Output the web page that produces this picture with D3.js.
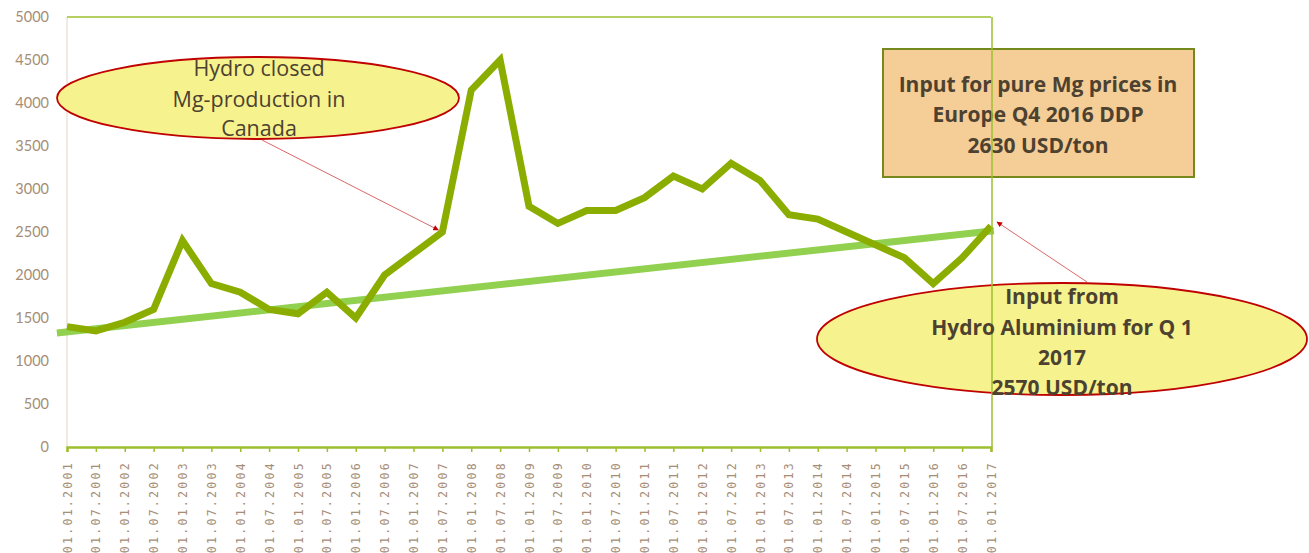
<!DOCTYPE html>
<html>
<head>
<meta charset="utf-8">
<script src="https://cdn.jsdelivr.net/npm/d3@7"></script>
<style>
  html, body { margin: 0; padding: 0; background: #fff; }
  svg { display: block; }
</style>
</head>
<body>
<div id="chart"></div>
<script>
// half-year dates, Jan 2001 .. Jan 2017
const dateLabels = [
  '01.01.2001','01.07.2001','01.01.2002','01.07.2002','01.01.2003','01.07.2003',
  '01.01.2004','01.07.2004','01.01.2005','01.07.2005','01.01.2006','01.07.2006',
  '01.01.2007','01.07.2007','01.01.2008','01.07.2008','01.01.2009','01.07.2009',
  '01.01.2010','01.07.2010','01.01.2011','01.07.2011','01.01.2012','01.07.2012',
  '01.01.2013','01.07.2013','01.01.2014','01.07.2014','01.01.2015','01.07.2015',
  '01.01.2016','01.07.2016','01.01.2017'
];
// Mg price, USD/ton
const mgPrice = [
  1400, 1350, 1450, 1600, 2400, 1900, 1800, 1600, 1550, 1800, 1500, 2000,
  2250, 2500, 4150, 4500, 2800, 2600, 2750, 2750, 2900, 3150, 3000, 3300,
  3100, 2700, 2650, 2500, 2350, 2200, 1900, 2200, 2570
];
// linear trend (index, value)
const trendIdx = [-0.35, 32.1];
const trendVal = [1325, 2515];
const yTicks = [0, 500, 1000, 1500, 2000, 2500, 3000, 3500, 4000, 4500, 5000];

const W = 1309, H = 553;
const svg = d3.select('#chart').append('svg').attr('width', W).attr('height', H);

const x = d3.scaleLinear().domain([0, dateLabels.length - 1]).range([67, 991]);
const y = d3.scaleLinear().domain([0, 5000]).range([447, 17]);

const labelColor = '#a58d76';
const frameGreen = '#9cbf2e';

// frame: left beige, top/right green
svg.append('line').attr('x1', x(0)).attr('x2', x(0)).attr('y1', y(5000)).attr('y2', y(0))
  .attr('stroke', '#e6ddd3').attr('stroke-width', 1.2);
svg.append('line').attr('x1', x(0)).attr('x2', x(32)).attr('y1', y(5000)).attr('y2', y(5000))
  .attr('stroke', frameGreen).attr('stroke-width', 1.5);

// y axis
const yAxis = svg.append('g').attr('transform', `translate(${x(0)},0)`)
  .call(d3.axisLeft(y).tickValues(yTicks).tickSize(0).tickPadding(18).tickFormat(d3.format('d')));
yAxis.select('.domain').remove();
yAxis.selectAll('text')
  .attr('fill', labelColor)
  .style('font-family', 'Lato, sans-serif')
  .style('font-size', '14.5px');

// x axis
const xAxis = svg.append('g').attr('transform', `translate(0,${y(0)})`)
  .call(d3.axisBottom(x).tickValues(d3.range(dateLabels.length)).tickSize(5)
    .tickFormat(i => dateLabels[i]));
xAxis.select('.domain').attr('stroke', frameGreen).attr('stroke-width', 2.5);
xAxis.selectAll('.tick line').attr('stroke', frameGreen).attr('stroke-width', 1.5);
xAxis.selectAll('text')
  .attr('fill', labelColor)
  .attr('transform', 'rotate(-90)')
  .attr('text-anchor', 'end')
  .attr('x', -14).attr('y', 0).attr('dy', '0.35em')
  .style('font-family', '"DejaVu Sans Mono", monospace')
  .style('font-size', '11.5px')
  .style('letter-spacing', '2.3px');

// trend line
svg.append('line')
  .attr('x1', x(trendIdx[0])).attr('y1', y(trendVal[0]))
  .attr('x2', x(trendIdx[1])).attr('y2', y(trendVal[1]))
  .attr('stroke', '#92d050').attr('stroke-width', 7);

// main series
svg.append('path')
  .datum(mgPrice)
  .attr('d', d3.line().x((d, i) => x(i)).y(d => y(d)))
  .attr('fill', 'none')
  .attr('stroke', '#8aad00')
  .attr('stroke-width', 7)
  .attr('stroke-linejoin', 'miter');

// arrow marker
svg.append('defs').append('marker')
  .attr('id', 'arr').attr('viewBox', '0 0 10 10').attr('refX', 9).attr('refY', 5)
  .attr('markerWidth', 9).attr('markerHeight', 7).attr('orient', 'auto')
  .append('path').attr('d', 'M0,0L10,5L0,10z').attr('fill', '#c00000');

const textColor = '#4d4130';
const font = '"Open Sans", Lato, sans-serif';

// callout 1
svg.append('line').attr('x1', 262).attr('y1', 140).attr('x2', x(13) - 4).attr('y2', y(mgPrice[13]) - 2)
  .attr('stroke', '#d04040').attr('stroke-width', 0.8).attr('marker-end', 'url(#arr)');
svg.append('ellipse').attr('cx', 258).attr('cy', 98).attr('rx', 201).attr('ry', 41)
  .attr('fill', '#f6f38f').attr('stroke', '#c00000').attr('stroke-width', 1.8);
svg.append('text').attr('font-family', font).attr('font-size', 21.5)
  .attr('fill', textColor).attr('text-anchor', 'middle')
  .selectAll('tspan').data([['Hydro closed', 76], ['Mg-production in', 107], ['Canada', 136]])
  .join('tspan').attr('x', 259).attr('y', d => d[1]).text(d => d[0]);

// box
svg.append('rect').attr('x', 883).attr('y', 49).attr('width', 311).attr('height', 128)
  .attr('fill', '#f5cd96').attr('stroke', '#76891c').attr('stroke-width', 2);
svg.append('text').attr('font-family', font).attr('font-size', 21).attr('font-weight', 'bold')
  .attr('fill', textColor).attr('text-anchor', 'middle')
  .selectAll('tspan').data([['Input for pure Mg prices in', 92], ['Europe Q4 2016 DDP', 122], ['2630 USD/ton', 153]])
  .join('tspan').attr('x', 1038).attr('y', d => d[1]).text(d => d[0]);

// callout 2
svg.append('line').attr('x1', 1087).attr('y1', 282).attr('x2', x(32) + 6).attr('y2', y(mgPrice[32]) - 4)
  .attr('stroke', '#d04040').attr('stroke-width', 0.8).attr('marker-end', 'url(#arr)');
svg.append('ellipse').attr('cx', 1062).attr('cy', 339).attr('rx', 245).attr('ry', 56)
  .attr('fill', '#f6f38f').attr('stroke', '#c00000').attr('stroke-width', 1.8);

// right frame (drawn over the callout)
svg.append('line').attr('x1', x(32) + 1).attr('x2', x(32) + 1).attr('y1', y(5000)).attr('y2', y(0))
  .attr('stroke', frameGreen).attr('stroke-width', 1.5);

svg.append('text').attr('font-family', font).attr('font-size', 21).attr('font-weight', 'bold')
  .attr('fill', textColor).attr('text-anchor', 'middle')
  .selectAll('tspan').data([['Input from', 304], ['Hydro Aluminium for Q 1', 335], ['2017', 365], ['2570 USD/ton', 395]])
  .join('tspan').attr('x', 1062).attr('y', d => d[1]).text(d => d[0]);
</script>
</body>
</html>
